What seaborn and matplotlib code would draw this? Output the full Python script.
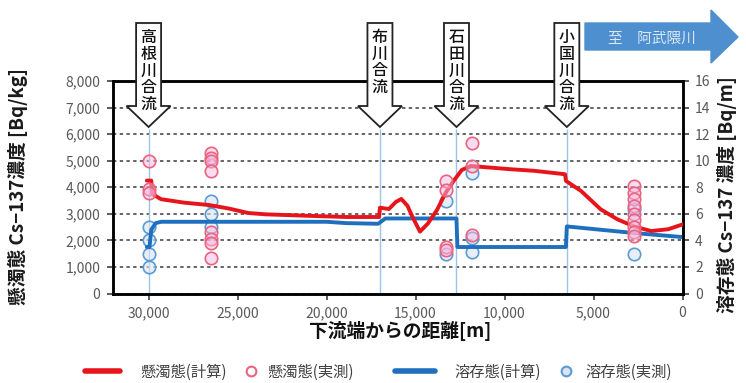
import matplotlib
matplotlib.use("Agg")
import matplotlib.pyplot as plt
from matplotlib.patches import Polygon
from matplotlib.lines import Line2D
import pandas as pd
import seaborn as sns

# Computed suspended Cs-137 [Bq/kg] along the river (distance from downstream end [m])
calc_ss_dist = [30100, 29850, 29800, 29300, 28000, 26600, 25500, 24400, 23400, 20800,
                18900, 17050, 17000, 16500, 16100, 15800, 15450, 15150, 14750, 14300,
                13800, 13300, 12850, 12400, 11900, 9700, 8350, 6600, 6550, 5700,
                4600, 3650, 2700, 1750, 800, 0]
calc_ss_conc = [4250, 4250, 3750, 3550, 3420, 3330, 3200, 3030, 2980, 2920,
                2880, 2880, 3230, 3180, 3450, 3560, 3300, 2850, 2330, 2640,
                3140, 3800, 4250, 4650, 4800, 4680, 4620, 4490, 4240, 3860,
                3170, 2790, 2520, 2350, 2420, 2600]

# Computed dissolved Cs-137 [Bq/m]
calc_dis_dist = [30100, 29950, 29850, 29600, 29300, 20000, 18900, 17100, 16700, 12700,
                 12650, 6550, 6500, 2700, 0]
calc_dis_conc = [3.5, 3.5, 4.8, 5.3, 5.4, 5.4, 5.3, 5.25, 5.65, 5.65,
                 3.5, 3.5, 5.05, 4.55, 4.25]

# Measured suspended Cs-137 [Bq/kg]
obs_ss_dist = [30000, 30000, 30000,
               26500, 26500, 26500, 26500, 26500, 26500, 26500, 26500,
               13300, 13300, 13300, 13300,
               11800, 11800, 11800,
               2700, 2700, 2700, 2700, 2700, 2700, 2700, 2700, 2700]
obs_ss_conc = [5000, 3950, 3800,
               5300, 5100, 5000, 4600, 2300, 2050, 1900, 1350,
               4250, 3900, 1750, 1650,
               5650, 4800, 2200,
               4050, 3800, 3550, 3300, 3000, 2750, 2500, 2300, 2150]

# Measured dissolved Cs-137 [Bq/m]
obs_dis_dist = [30000, 30000, 30000, 30000,
                26500, 26500, 26500,
                13300, 13300,
                11800, 11800, 11800,
                2700, 2700]
obs_dis_conc = [5.0, 4.0, 3.0, 2.0,
                7.0, 6.0, 5.0,
                7.0, 3.0,
                9.1, 4.2, 3.1,
                6.4, 3.0]

confluence_names = ["高根川合流", "布川合流", "石田川合流", "小国川合流"]
confluence_dist = [30000, 17000, 12700, 6500]

x_ticks = [30000, 25000, 20000, 15000, 10000, 5000, 0]
left_ticks = [0, 1000, 2000, 3000, 4000, 5000, 6000, 7000, 8000]
right_ticks = [0, 2, 4, 6, 8, 10, 12, 14, 16]

legend_labels = ["懸濁態(計算)", "懸濁態(実測)", "溶存態(計算)", "溶存態(実測)"]

RED = "#e8141b"
RED_PT = "#e8647f"
BLUE = "#1f6fbf"
BLUE_PT = "#5b9bd5"
TICK_C = "#595959"

sns.set_style("white")
plt.rcParams["font.family"] = ["Noto Sans CJK JP", "DejaVu Sans"]

W, H = 746, 383
fig = plt.figure(figsize=(W / 100, H / 100), dpi=100)
fig.patch.set_facecolor("white")

ax_l, ax_r, ax_t, ax_b = 113, 682.5, 81, 293.5
ax = fig.add_axes([ax_l / W, 1 - ax_b / H, (ax_r - ax_l) / W, (ax_b - ax_t) / H])
ax2 = ax.twinx()
# suspended (left axis) drawn above dissolved (right axis)
ax2.set_zorder(1)
ax.set_zorder(2)
ax.patch.set_visible(False)
ax2.patch.set_visible(False)

ax.set_xlim(32000, 0)
ax.set_ylim(0, 8000)
ax2.set_ylim(0, 16)

# grid and confluence markers on the lower axes
ax2.set_yticks(right_ticks)
ax2.yaxis.grid(True, color="#3a3a3a", lw=1.1, ls=(0, (2.2, 2.2)))
ax2.set_axisbelow(True)
ax2.vlines(confluence_dist, 0, 12.4, color="#9dc3e6", lw=1.0, zorder=1)

df_dis_calc = pd.DataFrame({"dist": calc_dis_dist, "conc": calc_dis_conc})
df_dis_obs = pd.DataFrame({"dist": obs_dis_dist, "conc": obs_dis_conc})
sns.scatterplot(data=df_dis_obs, x="dist", y="conc", ax=ax2, s=80,
                facecolor=(0.85, 0.89, 0.95, 0.6), edgecolor=BLUE_PT,
                linewidth=1.2, zorder=2, legend=False)
sns.lineplot(data=df_dis_calc, x="dist", y="conc", ax=ax2, sort=False,
             estimator=None, color=BLUE, lw=2.8, zorder=3, legend=False)

df_ss_calc = pd.DataFrame({"dist": calc_ss_dist, "conc": calc_ss_conc})
df_ss_obs = pd.DataFrame({"dist": obs_ss_dist, "conc": obs_ss_conc})
sns.lineplot(data=df_ss_calc, x="dist", y="conc", ax=ax, sort=False,
             estimator=None, color=RED, lw=2.8, zorder=3, legend=False)
sns.scatterplot(data=df_ss_obs, x="dist", y="conc", ax=ax, s=80,
                facecolor=(0.97, 0.72, 0.88, 0.5), edgecolor=RED_PT,
                linewidth=1.2, zorder=4, legend=False)

ax.set_xticks(x_ticks)
ax.set_xticklabels([f"{v:,}" for v in x_ticks])
ax.set_yticks(left_ticks)
ax.set_yticklabels([f"{v:,}" for v in left_ticks])
ax2.set_yticklabels([str(v) for v in right_ticks])
ax.set_xlabel("")
ax.set_ylabel("")
ax2.set_ylabel("")

for a in (ax, ax2):
    for s in a.spines.values():
        s.set_color("black")
        s.set_linewidth(1.8)
ax.tick_params(axis="both", direction="out", length=4, width=1.2, color="#404040",
               labelcolor=TICK_C, labelsize=10, pad=5)
ax.tick_params(axis="x", bottom=True)
ax.tick_params(axis="y", left=True)
ax2.tick_params(axis="y", direction="out", length=4, width=1.2, color="#404040",
                labelcolor=TICK_C, labelsize=10, pad=5, right=True)

# axis titles
fig.text(18 / W, 1 - 187 / H, "懸濁態 Cs−137濃度 [Bq/kg]", rotation=90,
         ha="center", va="center", fontsize=13.5, fontweight="bold", color="#1a1a1a")
fig.text(727 / W, 1 - 195 / H, "溶存態 Cs−137 濃度 [Bq/m]", rotation=90,
         ha="center", va="center", fontsize=13.5, fontweight="bold", color="#1a1a1a")
fig.text(400 / W, 1 - 331 / H, "下流端からの距離[m]", ha="center", va="center",
         fontsize=13.5, fontweight="bold", color="#111111")


def px(x, y):
    return (x / W, 1 - y / H)


# confluence call-out arrows
for name, d in zip(confluence_names, confluence_dist):
    cx = ax.transData.transform((d, 0))[0]
    top, base, tip, hw, HW = 23, 106, 127, 12.5, 22
    pts = [px(cx - hw, top), px(cx + hw, top), px(cx + hw, base), px(cx + HW, base),
           px(cx, tip), px(cx - HW, base), px(cx - hw, base)]
    fig.patches.append(Polygon(pts, closed=True, transform=fig.transFigure,
                               facecolor="white", edgecolor="#222222", lw=1.3, zorder=5))
    fig.text(*px(cx, 29), "\n".join(name), ha="center", va="top", fontsize=11.5,
             linespacing=0.98, color="#111111", fontweight="medium", zorder=6)

# downstream direction arrow
bpts = [px(585, 23), px(711, 23), px(711, 10), px(738, 37), px(711, 63),
        px(711, 50), px(585, 50)]
fig.patches.append(Polygon(bpts, closed=True, transform=fig.transFigure,
                           facecolor="#4e8fcf", edgecolor="#4e8fcf", lw=1, zorder=5))
fig.text(*px(652, 39), "至　阿武隈川", ha="center", va="center", fontsize=10.5,
         color="#dce8f5", zorder=6)

# legend: one entry per block so line and marker keys get their own widths
handles = [
    Line2D([], [], color=RED, lw=4),
    Line2D([], [], ls="none", marker="o", markersize=7, markerfacecolor="white",
           markeredgecolor=RED_PT, markeredgewidth=1.5),
    Line2D([], [], color=BLUE, lw=4),
    Line2D([], [], ls="none", marker="o", markersize=7, markerfacecolor=(0.85, 0.89, 0.95),
           markeredgecolor=BLUE_PT, markeredgewidth=1.5),
]
entry_x = [85, 243, 395, 558]
entry_len = [2.3, 1.0, 2.6, 1.0]
entry_pad = [1.3, 0.6, 1.3, 0.8]
for h, lab, x0, hl, hp in zip(handles, legend_labels, entry_x, entry_len, entry_pad):
    leg = fig.legend([h], [lab], loc="center left", bbox_to_anchor=px(x0, 372),
                     frameon=False, fontsize=11, handlelength=hl, handletextpad=hp,
                     borderpad=0, borderaxespad=0)
    for t in leg.get_texts():
        t.set_color("#404040")

fig.savefig("out.png", dpi=100, facecolor="white")
